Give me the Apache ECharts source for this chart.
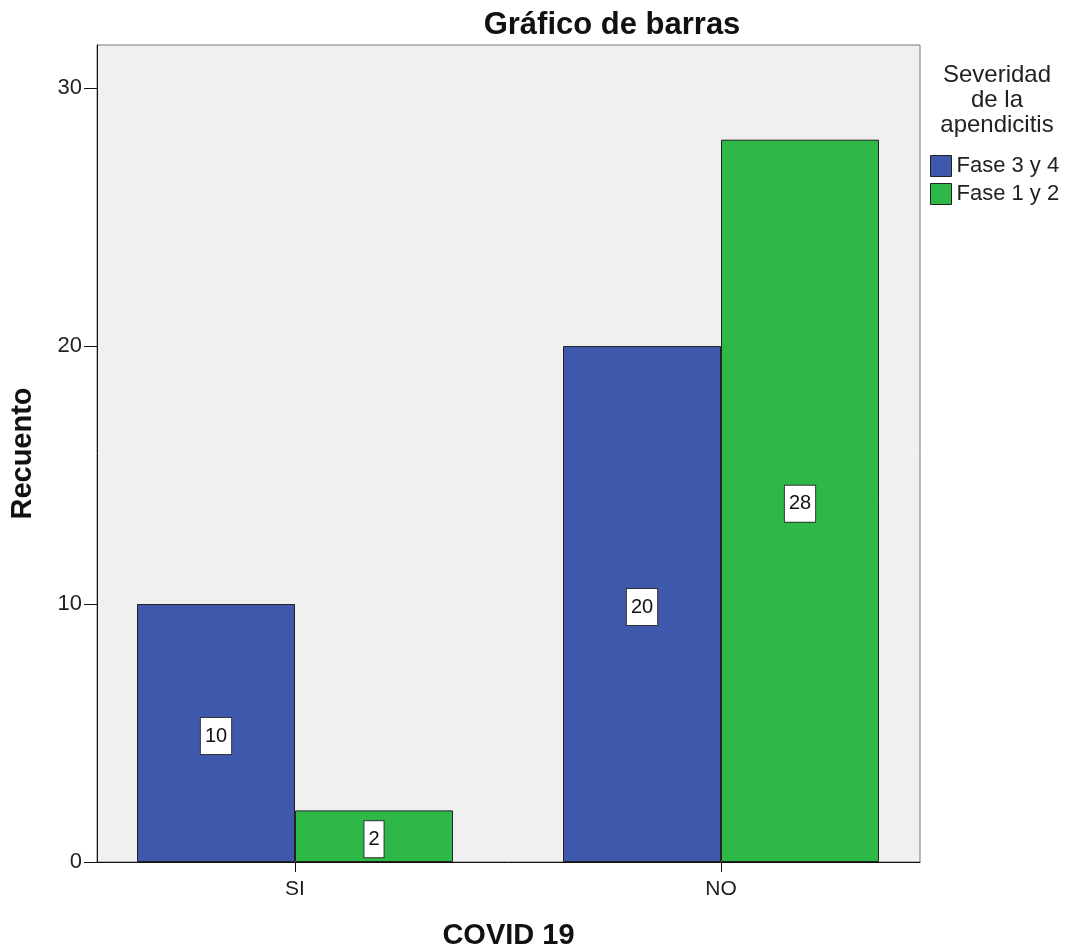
<!DOCTYPE html>
<html><head><meta charset="utf-8">
<script src="https://cdn.jsdelivr.net/npm/echarts@6/dist/echarts.min.js"></script>
<style>html,body{margin:0;padding:0;background:#fff}#c{width:1065px;height:951px}</style>
</head><body><div id="c"></div>
<script>
const categories = ['SI', 'NO'];
const seriesNames = ['Fase 3 y 4', 'Fase 1 y 2'];
const fase34 = [10, 20];
const fase12 = [2, 28];
const yTicks = [0, 10, 20, 30];
const colors = ['#3E58AC', '#2EB848'];

const chart = echarts.init(document.getElementById('c'));
const F = 'Liberation Sans, Arial, sans-serif';
const mk = (name, vals, color) => ({
  name, type: 'bar', barWidth: 158, barGap: '0%',
  data: vals.map((v, i) => [i, v]),
  itemStyle: { color, borderColor: '#222', borderWidth: 1 },
  label: { show: true, position: 'inside', offset: [0, 3], color: '#111', fontFamily: F, fontSize: 20, lineHeight: 20,
    backgroundColor: '#fff', borderColor: '#333', borderWidth: 1, padding: [8, 4, 8, 4],
    formatter: p => String(p.value[1]) }
});
chart.setOption({
  animation: false,
  title: [
    { text: 'Gráfico de barras', left: 607, top: 5, textAlign: 'center',
      textStyle: { fontFamily: F, fontWeight: 'bold', fontSize: 31, color: '#111' } },
    { text: 'Severidad\nde la\napendicitis', left: 992, top: 58, textAlign: 'center',
      textStyle: { fontFamily: F, fontWeight: 'normal', fontSize: 24, lineHeight: 25, color: '#222' } }
  ],
  legend: {
    orient: 'vertical', left: 930, top: 155, padding: 0, itemWidth: 21, itemHeight: 21, itemGap: 6,
    icon: 'rect', data: seriesNames,
    itemStyle: { borderColor: '#222', borderWidth: 1 },
    textStyle: { fontFamily: F, fontSize: 22, lineHeight: 21, color: '#222' }
  },
  grid: { left: 97, right: 145, top: 45, bottom: 89, outerBoundsMode: 'none', containLabel: false,
    show: true, backgroundColor: '#F0F0F0', borderColor: '#777', borderWidth: 1 },
  xAxis: {
    type: 'value', min: -0.4648, max: 1.4671,
    name: 'COVID 19', nameLocation: 'middle', nameGap: 59,
    nameTextStyle: { fontFamily: F, fontWeight: 'bold', fontSize: 29, color: '#111' },
    splitLine: { show: false },
    axisLine: { show: true, onZero: false, lineStyle: { color: '#111', width: 1 } },
    axisTick: { show: true, length: 10, customValues: [0, 1], lineStyle: { color: '#111' } },
    axisLabel: { customValues: [0, 1], formatter: v => categories[Math.round(v)] || '', fontFamily: F, fontSize: 21, color: '#222', margin: 17 }
  },
  yAxis: {
    type: 'value', min: 0, max: 31.67,
    name: 'Recuento', nameLocation: 'middle', nameGap: 60, nameRotate: 90,
    nameTextStyle: { fontFamily: F, fontWeight: 'bold', fontSize: 29, color: '#111' },
    splitLine: { show: false },
    axisLine: { show: true, onZero: false, lineStyle: { color: '#111', width: 1 } },
    axisTick: { show: true, length: 13, customValues: yTicks, lineStyle: { color: '#111' } },
    axisLabel: { customValues: yTicks, fontFamily: F, fontSize: 22, color: '#222', margin: 15 }
  },
  series: [mk(seriesNames[0], fase34, colors[0]), mk(seriesNames[1], fase12, colors[1])]
});
</script></body></html>
